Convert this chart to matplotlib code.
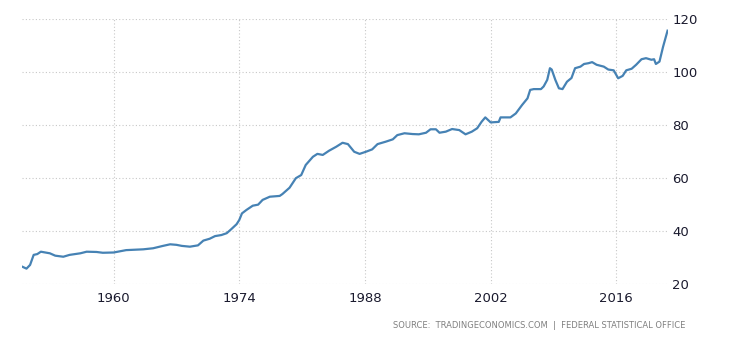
import matplotlib
matplotlib.use("Agg")
import matplotlib.pyplot as plt

years = [1949.85, 1950.3, 1950.7, 1951.1, 1951.5, 1951.9, 1952.9, 1953.5, 1954.4, 1955.1,
         1956.3, 1957.0, 1958.1, 1958.8, 1960.0, 1961.4, 1963.3, 1964.4, 1965.5, 1966.3,
         1967.0, 1967.6, 1968.5, 1969.4, 1970.0, 1970.7, 1971.3, 1972.0, 1972.6, 1973.1,
         1973.7, 1974.0, 1974.3, 1974.8, 1975.5, 1976.1, 1976.6, 1977.4, 1978.5, 1978.8,
         1979.6, 1980.3, 1980.9, 1981.4, 1982.2, 1982.7, 1983.3, 1984.0, 1984.8, 1985.5,
         1986.1, 1986.8, 1987.4, 1988.1, 1988.8, 1989.4, 1990.3, 1991.1, 1991.6, 1992.4,
         1993.3, 1994.0, 1994.8, 1995.3, 1995.9, 1996.3, 1997.0, 1997.7, 1998.5, 1999.2,
         1999.9, 2000.5, 2001.0, 2001.4, 2002.0, 2002.9, 2003.1, 2004.2, 2004.8, 2005.5,
         2006.1, 2006.4, 2006.8, 2007.6, 2007.9, 2008.3, 2008.6, 2008.8, 2009.2, 2009.6,
         2010.0, 2010.5, 2011.0, 2011.4, 2012.0, 2012.4, 2012.9, 2013.3, 2013.8, 2014.6,
         2015.1, 2015.7, 2016.2, 2016.7, 2017.1, 2017.7, 2018.2, 2018.8, 2019.3, 2019.9,
         2020.2, 2020.4, 2020.8, 2021.2, 2021.7]
values = [26.4, 25.7, 27.1, 30.9, 31.2, 32.1, 31.5, 30.6, 30.2, 30.9,
          31.5, 32.1, 32.0, 31.7, 31.8, 32.7, 33.0, 33.4, 34.3, 34.9,
          34.7, 34.3, 34.0, 34.5, 36.3, 37.0, 38.0, 38.4, 39.1, 40.6,
          42.5, 44.1, 46.6, 47.9, 49.5, 49.9, 51.7, 52.9, 53.2, 53.9,
          56.3, 59.9, 61.1, 64.9, 68.0, 69.1, 68.7, 70.3, 71.8, 73.3,
          72.8, 69.9, 69.1, 69.9, 70.8, 72.8, 73.7, 74.6, 76.2, 76.9,
          76.6, 76.5, 77.1, 78.4, 78.4, 77.1, 77.5, 78.5, 78.1, 76.5,
          77.5, 78.8, 81.3, 82.9, 81.0, 81.2, 82.9, 82.9, 84.4, 87.6,
          90.1, 93.3, 93.6, 93.6, 94.6, 97.1, 101.5, 101.0, 97.1, 93.9,
          93.6, 96.4, 97.8, 101.5, 102.1, 103.1, 103.4, 103.8, 102.8, 102.1,
          101.0, 100.7, 97.7, 98.6, 100.7, 101.3, 102.8, 104.9, 105.3, 104.7,
          104.9, 103.1, 104.0, 109.6, 115.7]

x_ticks = [1960, 1974, 1988, 2002, 2016]
y_ticks = [20, 40, 60, 80, 100, 120]
source = "SOURCE:  TRADINGECONOMICS.COM  |  FEDERAL STATISTICAL OFFICE"

fig = plt.figure(figsize=(7.3, 3.4), dpi=100)
ax = fig.add_axes([22 / 730, 1 - 283.7 / 340, (668 - 22) / 730, (283.7 - 19.3) / 340])
ax.plot(years, values, color="#4682B4", linewidth=1.6, solid_joinstyle="round")
ax.set_xlim(1949.8, 2021.75)
ax.set_ylim(20, 120)
ax.set_xticks(x_ticks)
ax.set_yticks(y_ticks)
ax.grid(True, color="#c8c8c8", linestyle=(0, (1, 2)), linewidth=0.8)
for s in ax.spines.values():
    s.set_visible(False)
ax.yaxis.tick_right()
ax.tick_params(axis="both", length=0, labelsize=9.5, colors="#1a1a2e")
ax.tick_params(axis="y", pad=3)
ax.tick_params(axis="x", pad=6)
fig.text(685.7 / 730, 1 - 325 / 340, source, ha="right", va="center",
         fontsize=6.0, color="#808080")
fig.savefig("out.png", dpi=100)
